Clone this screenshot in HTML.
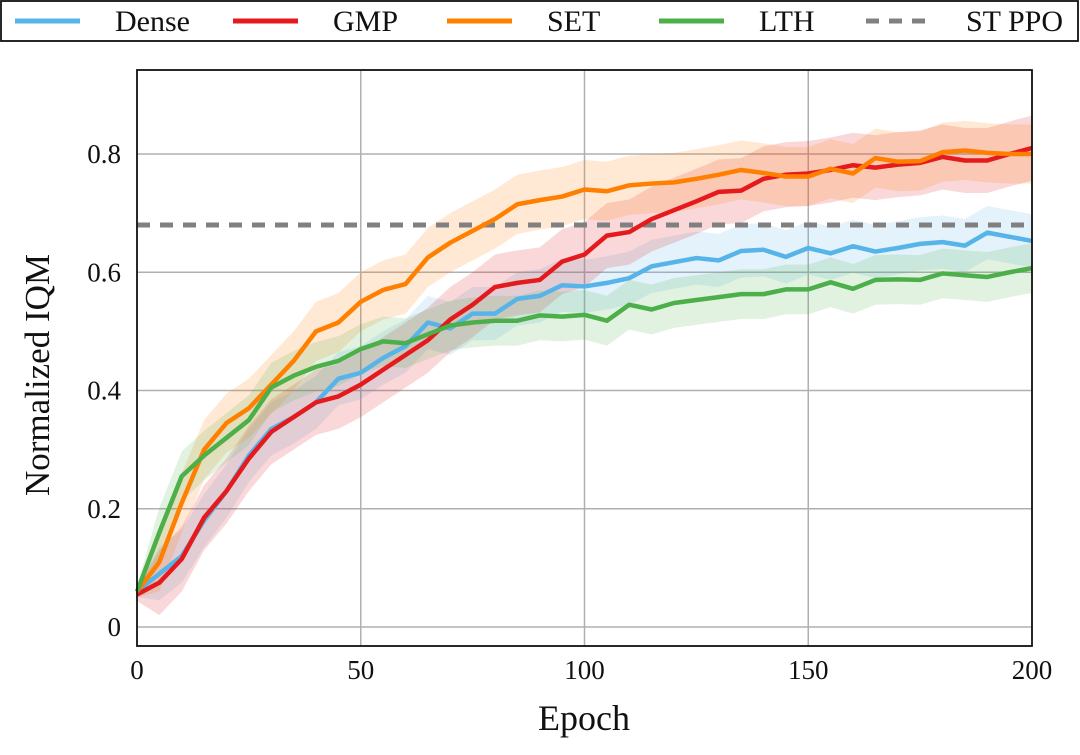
<!DOCTYPE html>
<html><head><meta charset="utf-8"><style>
body{margin:0;background:#fff;}
svg text{font-family:"Liberation Serif",serif;fill:#111;}
</style></head><body>
<svg id="chart" width="1080" height="750" viewBox="0 0 1080 750" xmlns="http://www.w3.org/2000/svg">
<g id="legend"></g>
<g id="grid"></g>
<g id="bands"></g>
<g id="lines"></g>
<g id="axes"></g>
</svg>
<script>
const epochs = [0,5,10,15,20,25,30,35,40,45,50,55,60,65,70,75,80,85,90,95,100,105,110,115,120,125,130,135,140,145,150,155,160,165,170,175,180,185,190,195,200];
const denseVals = [0.06,0.09,0.12,0.18,0.23,0.29,0.335,0.355,0.38,0.42,0.43,0.455,0.475,0.515,0.505,0.53,0.53,0.555,0.56,0.578,0.576,0.582,0.59,0.61,0.617,0.624,0.62,0.636,0.638,0.626,0.641,0.632,0.644,0.635,0.641,0.648,0.651,0.645,0.667,0.66,0.653];
const gmpVals = [0.055,0.075,0.115,0.185,0.23,0.285,0.33,0.355,0.38,0.39,0.41,0.435,0.46,0.485,0.52,0.545,0.575,0.582,0.587,0.618,0.63,0.662,0.668,0.69,0.705,0.72,0.736,0.738,0.758,0.765,0.767,0.773,0.781,0.777,0.782,0.785,0.795,0.789,0.789,0.8,0.81];
const setVals = [0.06,0.11,0.21,0.30,0.345,0.37,0.41,0.45,0.50,0.515,0.55,0.57,0.58,0.625,0.65,0.67,0.69,0.715,0.722,0.728,0.74,0.737,0.747,0.75,0.752,0.758,0.765,0.773,0.768,0.762,0.762,0.775,0.767,0.793,0.787,0.788,0.803,0.806,0.802,0.8,0.8];
const lthVals = [0.06,0.16,0.255,0.29,0.32,0.35,0.405,0.425,0.44,0.45,0.47,0.483,0.48,0.495,0.51,0.515,0.518,0.518,0.527,0.525,0.528,0.518,0.545,0.537,0.548,0.553,0.558,0.563,0.563,0.571,0.571,0.583,0.572,0.587,0.588,0.587,0.598,0.595,0.592,0.6,0.607];
const spreads = [0.045,0.055,0.05,0.042];
const stPpo = 0.68;
const xTicks = [0,50,100,150,200];
const yTicks = [0,0.2,0.4,0.6,0.8];
const seriesNames = ["Dense","GMP","SET","LTH"];

const NS="http://www.w3.org/2000/svg";
const X0=137,X1=1032,YT=70,YB=646;
const xs=v=>X0+(v-0)/200*(X1-X0);
const ys=v=>627-v*591.25;
function mk(tag,parent,attrs){const e=document.createElementNS(NS,tag);for(const k in attrs)e.setAttribute(k,attrs[k]);parent.appendChild(e);return e;}
const colors=["#56b4e9","#e41a1c","#ff7f00","#4daf4a"];
const all=[denseVals,gmpVals,setVals,lthVals];
const grid=document.getElementById('grid'),bands=document.getElementById('bands'),lines=document.getElementById('lines'),axes=document.getElementById('axes'),legend=document.getElementById('legend');
xTicks.forEach(t=>{
  if(t>0&&t<200){const l=mk('line',grid,{x1:xs(t),x2:xs(t),y1:YT,y2:YB,stroke:'#b0b0b0','stroke-width':1.5});
  
  }
  const tx=mk('text',axes,{x:xs(t),y:679,'text-anchor':'middle','font-size':27});tx.textContent=t;
  
  
});
yTicks.forEach(t=>{
  const l=mk('line',grid,{x1:X0,x2:X1,y1:ys(t),y2:ys(t),stroke:'#b0b0b0','stroke-width':1.5});
  
  
  const tx=mk('text',axes,{x:121,y:ys(t)+9,'text-anchor':'end','font-size':27});tx.textContent=t===0?'0':t.toFixed(1);
  
  
});
all.forEach((vals,i)=>{
  const w=j=>j===0?0.2:1;
  const up=epochs.map((e,j)=>xs(e)+','+ys(vals[j]+spreads[i]*w(j))).join(' ');
  const lo=epochs.map((e,j)=>xs(e)+','+ys(vals[j]-spreads[i]*w(j))).reverse().join(' ');
  const b=mk('polygon',bands,{points:up+' '+lo,fill:colors[i],'fill-opacity':0.17});
  
  
});
const dl=mk('line',lines,{x1:X0,x2:X1,y1:ys(stPpo),y2:ys(stPpo),stroke:'#808080','stroke-width':5,'stroke-dasharray':'13 10'});


all.forEach((vals,i)=>{
  const p=mk('polyline',lines,{points:epochs.map((e,j)=>xs(e)+','+ys(vals[j])).join(' '),fill:'none',stroke:colors[i],'stroke-width':4.5,'stroke-linejoin':'round'});
  
  
});
const fr=mk('rect',axes,{x:X0,y:YT,width:X1-X0,height:YB-YT,fill:'none',stroke:'#111','stroke-width':1.8});


const xt=mk('text',axes,{x:584,y:730,'text-anchor':'middle','font-size':36});xt.textContent='Epoch';


const yt=mk('text',axes,{x:49,y:375,'text-anchor':'middle','font-size':35,transform:'rotate(-90 49 375)'});yt.textContent='Normalized IQM';


const lb=mk('rect',legend,{x:1,y:1,width:1077,height:40,fill:'#fff',stroke:'#111','stroke-width':1.8});


const legNames=["Dense","GMP","SET","LTH","ST PPO"];
const legCols=colors.concat(['#808080']);
const legX=[15,233,447,659,866];
legNames.forEach((n,i)=>{
  const g=mk('g',legend,{});
  
  
  const a={x1:legX[i],x2:legX[i]+65,y1:21,y2:21,stroke:legCols[i],'stroke-width':5};
  if(i===4)a['stroke-dasharray']='13 10';
  mk('line',g,a);
  const t=mk('text',g,{x:legX[i]+100,y:31,'font-size':30});t.textContent=n;
});
</script>
</body></html>
